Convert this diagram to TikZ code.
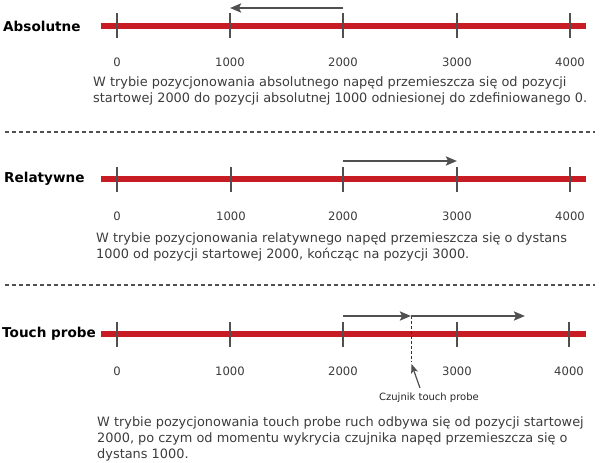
\documentclass[tikz,border=0pt]{standalone}
\usepackage{fontspec}
\setmainfont{DejaVu Sans}
\usetikzlibrary{arrows.meta}
\definecolor{railred}{RGB}{200,28,36}
\definecolor{tickgray}{RGB}{80,80,80}
\definecolor{arrowgray}{RGB}{80,80,80}
\definecolor{textgray}{RGB}{60,60,60}
\tikzset{
  rail/.style={draw=railred, line width=6pt},
  tickline/.style={draw=tickgray, line width=1.3pt},
  ticklabel/.style={text=textgray, font=\fontsize{11.6}{13}\selectfont, anchor=base, inner sep=0pt},
  title/.style={font=\bfseries\fontsize{13.6}{16}\selectfont, anchor=west, inner sep=0pt, text=black},
  desc/.style={font=\fontsize{12.9}{16}\selectfont, anchor=base west, inner sep=0pt, text=textgray},
  move/.style={draw=arrowgray, line width=2.2pt, -{Stealth[length=11pt, width=9pt, inset=2pt]}},
  pointer/.style={draw=arrowgray, line width=1.2pt, -{Stealth[length=9pt, width=7pt, inset=2pt]}},
  separator/.style={draw=tickgray, line width=1.2pt, dash pattern=on 4pt off 3pt},
  sensorline/.style={draw=black!80, line width=1pt, dash pattern=on 3pt off 2pt},
  small/.style={font=\fontsize{10}{12}\selectfont, text=black!85, anchor=base, inner sep=0pt}
}
\begin{document}
\begin{tikzpicture}[x=1pt, y=-1pt]
\useasboundingbox (0,0) rectangle (600,463);

% ---------- Section 1: Absolutne ----------
\node[title] (t1) at (3,26) {Absolutne};
\coordinate (r1s) at (101,26);
\coordinate (r1e) at (586,26);
\draw[rail] (r1s) -- (r1e);
\foreach \v/\x in {0/117,1000/230,2000/343,3000/457,4000/570}{
  \coordinate (a\v top) at (\x,13);
  \coordinate (a\v bot) at (\x,38);
  \draw[tickline] (a\v top) -- (a\v bot);
  \node[ticklabel] (al\v) at (\x,66.5) {\v};
}
\coordinate (m1s) at (343,8);
\coordinate (m1e) at (230,8);
\draw[move] (m1s) -- (m1e);
\node[desc] (d1a) at (93,86.5) {W trybie pozycjonowania absolutnego napęd przemieszcza się od pozycji};
\node[desc] (d1b) at (93,102.5) {startowej 2000 do pozycji absolutnej 1000 odniesionej do zdefiniowanego 0.};

\coordinate (s1l) at (5,132);
\coordinate (s1r) at (595,132);
\draw[separator] (s1l) -- (s1r);

% ---------- Section 2: Relatywne ----------
\node[title] (t2) at (4,179) {Relatywne};
\coordinate (r2s) at (101,179);
\coordinate (r2e) at (586,179);
\draw[rail] (r2s) -- (r2e);
\foreach \v/\x in {0/117,1000/231,2000/343,3000/457,4000/570}{
  \coordinate (b\v top) at (\x,167);
  \coordinate (b\v bot) at (\x,192);
  \draw[tickline] (b\v top) -- (b\v bot);
  \node[ticklabel] (bl\v) at (\x,220.5) {\v};
}
\coordinate (m2s) at (343,161);
\coordinate (m2e) at (457,161);
\draw[move] (m2s) -- (m2e);
\node[desc] (d2a) at (96,242.5) {W trybie pozycjonowania relatywnego napęd przemieszcza się o dystans};
\node[desc] (d2b) at (96,258) {1000 od pozycji startowej 2000, kończąc na pozycji 3000.};

\coordinate (s2l) at (5,285);
\coordinate (s2r) at (595,285);
\draw[separator] (s2l) -- (s2r);

% ---------- Section 3: Touch probe ----------
\node[title] (t3) at (2,334) {Touch probe};
\coordinate (r3s) at (101,334);
\coordinate (r3e) at (586,334);
\draw[rail] (r3s) -- (r3e);
\foreach \v/\x in {0/117,1000/230,2000/343,3000/457,4000/569}{
  \coordinate (c\v top) at (\x,322);
  \coordinate (c\v bot) at (\x,347);
  \draw[tickline] (c\v top) -- (c\v bot);
  \node[ticklabel] (cl\v) at (\x,375.5) {\v};
}
\coordinate (m3s) at (343,316);
\coordinate (sens) at (411,316);
\coordinate (m3e) at (525,316);
\coordinate (sensbot) at (411,362);
\draw[sensorline] (sens) -- (sensbot);
\draw[move] (m3s) -- (sens);
\draw[move] (sens) -- (m3e);
\node[small] (czl) at (429,400.5) {Czujnik touch probe};
\coordinate (ptail) at (420,388);
\coordinate (ptip) at (411.5,364);
\draw[pointer] (ptail) -- (ptip);
\node[desc] (d3a) at (97,426) {W trybie pozycjonowania touch probe ruch odbywa się od pozycji startowej};
\node[desc] (d3b) at (97,442) {2000, po czym od momentu wykrycia czujnika napęd przemieszcza się o};
\node[desc] (d3c) at (97,458) {dystans 1000.};
\end{tikzpicture}
\end{document}
